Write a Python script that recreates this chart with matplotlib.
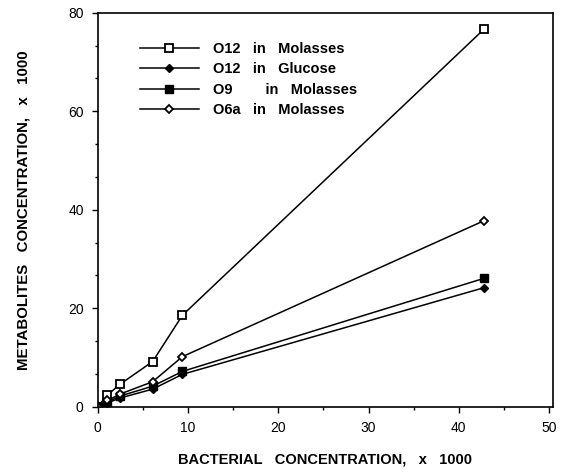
import matplotlib
matplotlib.use("Agg")
import matplotlib.pyplot as plt
from matplotlib.ticker import MultipleLocator

plt.rcParams['font.family'] = ['Liberation Sans', 'DejaVu Sans']

# Bacterial concentration (x 1000) sampled for every culture
bacteria = [0.0, 1.1, 2.5, 6.1, 9.4, 42.8]

# Metabolites concentration (x 1000) per culture
o12_molasses = [0.0, 2.4, 4.6, 9.2, 18.6, 76.7]
o12_glucose = [0.0, 0.8, 1.8, 3.6, 6.6, 24.2]
o9_molasses = [0.0, 1.0, 2.2, 4.2, 7.2, 26.1]
o6a_molasses = [0.0, 1.3, 2.6, 5.1, 10.2, 37.8]

labels = ["O12   in   Molasses", "O12   in   Glucose", "O9        in   Molasses", "O6a   in   Molasses"]
x_ticks = [0, 10, 20, 30, 40, 50]
y_ticks = [0, 20, 40, 60, 80]

fig = plt.figure(figsize=(5.67, 4.72), dpi=100)
ax = fig.add_axes([0.172, 0.138, 0.803, 0.835])

styles = [
    dict(marker='s', markerfacecolor='white', markersize=5.5, markeredgewidth=1.3),
    dict(marker='D', markerfacecolor='black', markersize=4.5),
    dict(marker='s', markerfacecolor='black', markersize=5.5),
    dict(marker='D', markerfacecolor='white', markersize=4.5, markeredgewidth=1.3),
]
for values, style, label in zip([o12_molasses, o12_glucose, o9_molasses, o6a_molasses], styles, labels):
    ax.plot(bacteria, values, color='black', linewidth=1.1, markeredgecolor='black',
            label=label, **style)

ax.set_xlim(0, 50.4)
ax.set_ylim(0, 80)
ax.set_xticks(x_ticks)
ax.set_yticks(y_ticks)
ax.xaxis.set_minor_locator(MultipleLocator(5))
ax.yaxis.set_minor_locator(MultipleLocator(20 / 3))
ax.tick_params(which='major', direction='out', length=4, width=1, labelsize=10, pad=6)
ax.tick_params(which='minor', direction='out', length=2.5, width=1)
for sp in ax.spines.values():
    sp.set_linewidth(1.2)

ax.set_xlabel("BACTERIAL   CONCENTRATION,   x   1000", fontsize=10.5, fontweight='bold', labelpad=13)
ax.set_ylabel("METABOLITES   CONCENTRATION,   x   1000", fontsize=10.8, fontweight='bold', labelpad=27)

leg = ax.legend(loc='upper left', bbox_to_anchor=(0.065, 0.96), frameon=False,
                prop={'weight': 'bold', 'size': 10.5}, handlelength=4.0,
                labelspacing=0.45, handletextpad=1.0)

fig.savefig("out.png", dpi=100)
